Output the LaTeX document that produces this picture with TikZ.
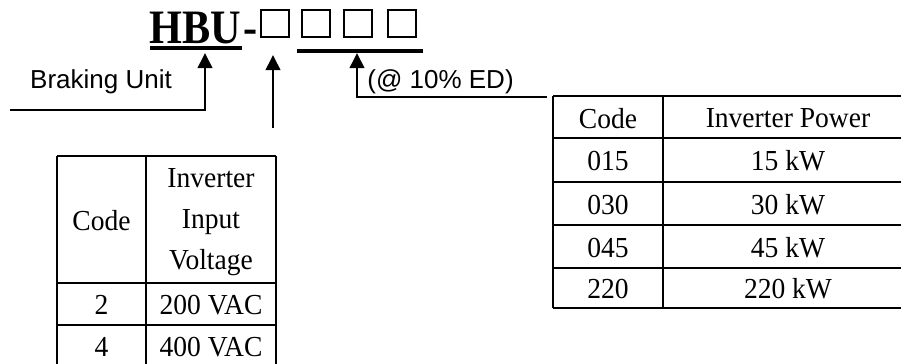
\documentclass[tikz,border=0pt]{standalone}
\usepackage{fontspec}
\setmainfont{Liberation Serif}[FakeStretch=0.95]
\newfontfamily\titlefont{Liberation Serif}[FakeStretch=0.88]
\newfontfamily\labelfont{Liberation Sans}
\usetikzlibrary{arrows.meta,positioning}

\tikzset{
  cell/.style={font=\fontsize{14.5}{20.5}\selectfont, inner sep=0pt, align=center},
  lbl/.style={font=\labelfont\fontsize{13}{15}\selectfont, inner sep=0pt},
  title/.style={font=\titlefont\fontsize{24}{26}\selectfont\bfseries, inner sep=0pt, anchor=base west},
  grid/.style={line width=1.2pt},
  mark line/.style={line width=1.6pt},
  pointer/.style={line width=0.8pt, -{Triangle[length=7.5pt,width=7.3pt]}},
  box line/.style={line width=1pt},
}

\begin{document}
\begin{tikzpicture}[x=0.5pt,y=-0.5pt]
  \useasboundingbox (0,0) rectangle (901,364);

  % model code
  \node[title] (hbu) at (149,43) {HBU};
  \node[title] (dash) at (243,43) {-};
  \foreach \x in {261,302,344,388}
    \draw[box line] (\x,10) rectangle ++(28,27);

  \draw[mark line] (150,48) -- (242,48);
  \draw[mark line] (297,51) -- (423,51);

  % labels and pointers
  \node[lbl] (brk) at (101,82) {Braking Unit};
  \node[lbl, anchor=west] (ed) at (367,82) {(@ 10\% ED)};

  \coordinate (brkend) at (10,110);
  \coordinate (hbutip) at (205,53);
  \coordinate (voltend) at (273,128);
  \coordinate (volttip) at (273,55);
  \coordinate (powend) at (547,97);
  \coordinate (powtip) at (357,53);

  \draw[pointer] (brkend) -| (hbutip);
  \draw[pointer] (voltend) -- (volttip);
  \draw[pointer] (powend) -| (powtip);

  % voltage table
  \draw[grid] (57,156) -- (276,156);
  \draw[grid] (57,283) -- (276,283);
  \draw[grid] (57,325) -- (276,325);
  \draw[grid] (57,156) -- (57,364);
  \draw[grid] (146,156) -- (146,364);
  \draw[grid] (276,156) -- (276,364);

  \node[cell] (vcode) at (101.5,221) {Code};
  \node[cell] (vhead) at (211,222.5) {Inverter\\Input\\Voltage};
  \node[cell] (v2) at (101.5,305) {2};
  \node[cell] (v200) at (211,305) {200 VAC};
  \node[cell] (v4) at (101.5,347) {4};
  \node[cell] (v400) at (211,347) {400 VAC};

  % power table
  \foreach \y in {96,138,182,225,268,308}
    \draw[grid] (553,\y) -- (901,\y);
  \draw[grid] (553,96) -- (553,308);
  \draw[grid] (663,96) -- (663,308);

  \node[cell] (pcode) at (608,118.5) {Code};
  \node[cell] (phead) at (788,118.5) {Inverter Power};
  \foreach \c/\p/\y in {015/15/161, 030/30/204.5, 045/45/247.5, 220/220/289} {
    \node[cell] (c\c) at (608,\y) {\c};
    \node[cell] (p\c) at (788,\y) {\p\ kW};
  }
\end{tikzpicture}
\end{document}
